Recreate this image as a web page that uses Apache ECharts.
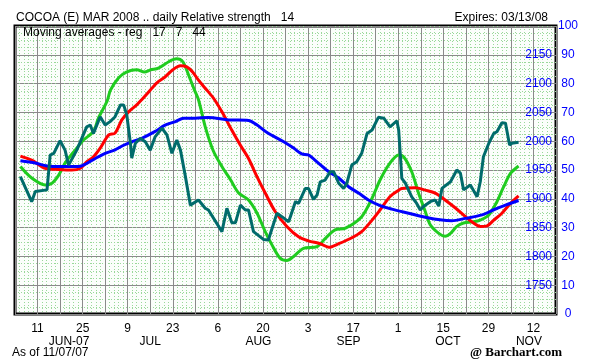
<!DOCTYPE html>
<html>
<head>
<meta charset="utf-8">
<script src="https://cdn.jsdelivr.net/npm/echarts@6/dist/echarts.min.js"></script>
<style>html,body{margin:0;padding:0;background:#fff}#c{width:616px;height:364px}</style>
</head>
<body>
<div id="c"></div>
<script>
// x = trading-day index (0 = Jun 11 2007)
const dayTickLabels = ['11','25','9','23','6','20','3','17','1','15','29','12'];
const monthLabelDays = [7, 25, 49, 69, 91, 109];
const monthLabels = ['JUN-07','JUL','AUG','SEP','OCT','NOV'];
const rsTicks = [0,10,20,30,40,50,60,70,80,90,100];
const priceTicks = [1750,1800,1850,1900,1950,2000,2050,2100,2150];

// Relative strength (14), 0-100
const rsDays = [-3.8,-1.3,-0.5,2.1,2.8,3.6,5.0,6.1,6.9,8.7,10.9,11.7,12.4,13.9,15.0,16.1,17.2,18.4,19.1,19.8,20.6,20.9,21.7,22.8,23.9,25.0,26.1,27.6,28.7,29.8,30.9,31.7,32.8,33.9,35.7,37.2,37.9,40.9,42.0,43.1,43.9,45.0,46.1,46.8,47.9,50.1,51.2,53.1,54.2,55.7,57.2,57.9,59.4,60.1,61.2,62.0,62.7,63.8,64.9,65.7,66.8,67.9,68.6,69.7,70.8,71.9,73.1,74.2,75.6,76.8,78.2,79.7,80.1,80.5,80.8,81.6,83.0,84.1,84.9,85.6,87.1,88.2,89.0,89.7,91.6,93.0,93.8,94.5,96.0,97.5,98.2,98.9,100.1,101.2,101.9,103.0,103.8,104.7,105.2,106.7];
const rsValues = [47.7,39.0,42.5,43.1,55.2,55.8,60.2,56.9,51.7,56.9,65.0,65.6,62.7,68.5,65.6,66.8,68.5,72.6,72.6,69.1,59.3,54.1,59.3,61.0,59.8,56.9,61.6,64.5,62.2,55.8,60.4,56.9,47.7,37.8,39.6,36.7,36.1,28.6,36.7,31.7,31.7,37.8,36.1,36.1,28.6,25.9,25.7,35.0,33.8,32.0,39.0,38.4,43.6,43.6,39.8,41.3,45.9,46.5,49.4,49.4,45.4,43.6,45.4,51.7,52.9,55.8,62.7,63.9,68.3,68.0,65.0,67.1,63.9,54.6,47.1,45.4,40.7,38.4,36.1,37.3,39.0,39.6,37.5,43.6,45.9,50.0,48.9,43.1,44.8,40.7,45.9,54.6,59.3,62.7,63.3,66.4,66.2,58.7,59.3,59.6];

// Moving averages on price scale
const ma7Days = [-3.8,-1.3,1.7,3.2,4.7,6.1,8.4,10.2,12.4,13.5,15.4,16.2,18.0,19.7,22.0,23.7,25.1,26.8,29.1,30.8,32.2,33.5,34.8,35.7,37.2,39.0,40.9,42.8,44.6,46.8,48.7,50.5,52.0,53.8,55.3,56.8,59.0,62.0,63.8,66.0,68.3,71.9,74.2,76.0,77.9,80.1,81.2,83.0,84.5,86.0,87.1,89.0,90.4,91.6,93.0,94.5,96.7,98.2,100.1,101.9,103.4,104.9,106.7];
const ma7Values = [1956,1936,1924,1927,1941,1962,1985,2002,2017,2040,2069,2089,2110,2120,2124,2120,2124,2127,2138,2143,2138,2115,2089,2072,2025,1983,1956,1933,1910,1898,1875,1843,1820,1797,1793,1800,1814,1817,1831,1846,1849,1869,1901,1933,1959,1976,1973,1947,1910,1878,1855,1840,1835,1840,1852,1858,1860,1863,1872,1895,1921,1944,1957];

const ma17Days = [-3.8,-1.3,1.7,4.7,7.6,9.5,10.9,12.4,13.9,15.8,17.2,18.7,20.2,22.0,23.1,24.6,26.4,28.2,30.0,31.7,33.1,34.4,35.7,37.2,39.0,40.9,43.1,45.0,46.8,48.7,50.5,52.7,55.3,57.9,60.1,62.7,64.6,66.8,69.4,71.9,74.2,76.0,78.2,80.1,80.8,83.8,86.0,88.2,90.4,92.7,94.9,96.7,98.2,99.7,101.2,103.0,104.9,106.7];
const ma17Values = [1974,1967,1953,1951,1950,1953,1964,1973,1988,2011,2014,2037,2051,2063,2072,2085,2101,2111,2124,2131,2129,2120,2106,2092,2075,2051,2019,1993,1970,1938,1910,1878,1852,1834,1827,1822,1816,1822,1831,1843,1863,1881,1904,1915,1918,1919,1915,1910,1898,1884,1869,1858,1852,1853,1863,1875,1892,1905];

const ma44Days = [-3.8,-0.5,2.1,5.4,9.1,10.6,12.8,15.0,17.2,19.1,20.9,23.1,26.1,28.3,30.6,32.4,35.0,37.9,42.4,46.8,48.7,50.9,54.6,56.8,58.6,60.1,62.3,64.6,66.8,69.0,71.2,73.4,76.0,78.6,82.3,86.0,89.7,91.9,94.9,98.6,101.2,103.8,106.7];
const ma44Values = [1966,1962,1957,1956,1956,1960,1970,1979,1985,1993,1999,2005,2017,2028,2034,2040,2040,2041,2037,2036,2028,2015,1999,1988,1978,1976,1962,1947,1936,1921,1910,1898,1888,1882,1875,1868,1863,1862,1866,1872,1881,1889,1897];

const pairs = (xs, ys) => xs.map((x, i) => [x, ys[i]]);

const chart = echarts.init(document.getElementById('c'), null, {renderer: 'canvas'});
const FONT = 'Liberation Sans';
const minorGreen = {show: true, lineStyle: {color: '#9ad89a', type: [1, 2], width: 1}};
const major = {show: true, lineStyle: {color: '#8a8a8a', width: 1}};
const txt = {fontFamily: FONT, fontSize: 12, fontWeight: 'normal', color: '#000'};

chart.setOption({
  animation: false,
  backgroundColor: '#ffffff',
  title: [
    {text: 'COCOA (E) MAR 2008 .. daily Relative strength   14', left: 16, top: 12, padding: 0, textStyle: txt},
    {text: 'Expires: 03/13/08', right: 68, top: 12, padding: 0, textStyle: txt},
    {text: 'Moving averages - reg   17   7   44', left: 23, top: 27, padding: 0, textStyle: txt},
    {text: 'As of 11/07/07', left: 12, top: 347, padding: 0, textStyle: txt},
    {text: '@ Barchart.com', right: 54, top: 346, padding: 0,
     textStyle: {fontFamily: 'Liberation Serif', fontSize: 13, fontWeight: 'bold', color: '#000'}}
  ],
  grid: {left: 15, right: 60, top: 26, bottom: 50, show: true,
         backgroundColor: '#fbfefb', borderColor: '#000', borderWidth: 3},
  xAxis: [
    {type: 'value', min: -5, max: 115, interval: 5, position: 'bottom',
     axisLine: {show: false}, axisTick: {show: false},
     axisLabel: {margin: 9, color: '#000', fontFamily: FONT, fontSize: 12,
       formatter: v => { const r = Math.round(v); return (r >= 0 && r % 10 === 0 && r / 10 < dayTickLabels.length) ? dayTickLabels[r / 10] : ''; }},
     splitLine: major,
     minorTick: {show: false, splitNumber: 5},
     minorSplitLine: minorGreen},
    {type: 'value', min: -5, max: 115, interval: 1, position: 'bottom', offset: 13,
     axisLine: {show: false}, axisTick: {show: false}, splitLine: {show: false},
     axisLabel: {margin: 9, color: '#000', fontFamily: FONT, fontSize: 12,
       formatter: v => { const i = monthLabelDays.indexOf(Math.round(v)); return i >= 0 ? monthLabels[i] : ''; }}}
  ],
  yAxis: [
    {type: 'value', min: 0, max: 100, interval: 10, position: 'right',
     axisLine: {show: false}, axisTick: {show: false},
     axisLabel: {margin: 12, align: 'center', color: '#0000ff', fontFamily: FONT, fontSize: 12,
       formatter: v => rsTicks.indexOf(v) >= 0 ? String(v) : ''},
     splitLine: major,
     minorTick: {show: false, splitNumber: 4},
     minorSplitLine: minorGreen},
    {type: 'value', min: 1700, max: 2200, interval: 50, position: 'right',
     axisLine: {show: false}, axisTick: {show: false}, splitLine: {show: false},
     axisLabel: {inside: true, margin: 4, color: '#0000ff', fontFamily: FONT, fontSize: 12,
       formatter: v => priceTicks.indexOf(v) >= 0 ? String(v) : ''}}
  ],
  series: [
    {name: 'MA7', type: 'line', xAxisIndex: 0, yAxisIndex: 1, data: pairs(ma7Days, ma7Values),
     showSymbol: false, smooth: 0.3, lineStyle: {color: '#1fcc1f', width: 3}},
    {name: 'MA17', type: 'line', xAxisIndex: 0, yAxisIndex: 1, data: pairs(ma17Days, ma17Values),
     showSymbol: false, smooth: 0.3, lineStyle: {color: '#ff0000', width: 3}},
    {name: 'MA44', type: 'line', xAxisIndex: 0, yAxisIndex: 1, data: pairs(ma44Days, ma44Values),
     showSymbol: false, smooth: 0.3, lineStyle: {color: '#0000ff', width: 3}},
    {name: 'RS14', type: 'line', xAxisIndex: 0, yAxisIndex: 0, data: pairs(rsDays, rsValues),
     showSymbol: false, lineStyle: {color: '#006b6b', width: 3}}
  ]
});
</script>
</body>
</html>
